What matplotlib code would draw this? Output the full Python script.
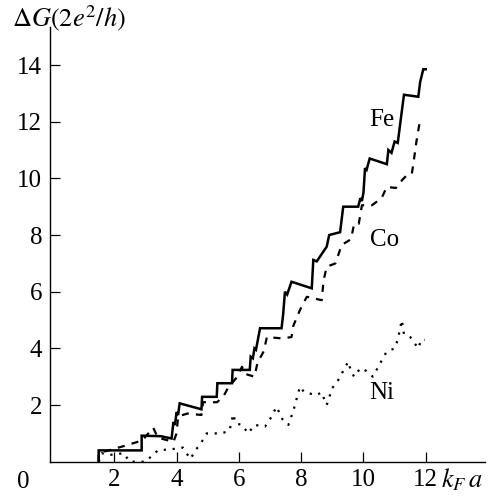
import matplotlib
matplotlib.use("Agg")
import matplotlib.pyplot as plt

plt.rcParams['font.family'] = ['Liberation Serif', 'DejaVu Serif']
plt.rcParams['mathtext.fontset'] = 'stix'

# ---- data ----
fe_x = [1.5, 1.5, 2.88, 2.88, 3.5, 3.84, 3.9, 3.95, 4.0, 4.05, 4.1, 4.8, 4.82, 5.29, 5.31, 5.78, 5.8,
        6.35, 6.38, 6.45, 6.5, 6.55, 6.68, 7.37, 7.42, 7.48, 7.55, 7.69, 8.34, 8.39, 8.5, 8.82, 8.9,
        9.25, 9.35, 9.83, 9.9, 9.95, 10.0, 10.05, 10.1, 10.2, 10.75, 10.8, 10.9, 11.0, 11.1, 11.17,
        11.3, 11.76, 11.82, 11.92, 12.0]
fe_y = [0.0, 0.4, 0.4, 0.92, 0.9, 0.82, 1.4, 1.3, 1.75, 1.65, 2.06, 1.85, 2.29, 2.29, 2.77, 2.77, 3.24,
        3.24, 3.71, 3.65, 4.0, 3.95, 4.71, 4.71, 5.18, 6.0, 5.9, 6.35, 6.12, 7.12, 7.07, 7.59, 8.0,
        8.1, 9.0, 9.0, 9.3, 9.2, 9.5, 10.36, 10.3, 10.7, 10.5, 11.0, 10.9, 11.3, 11.25, 11.85,
        12.95, 12.88, 13.4, 13.85, 13.85]

co_x = [1.5, 1.5, 2.3, 2.9, 3.25, 3.4, 3.9, 4.0, 4.05, 4.35, 4.8, 4.85, 5.3, 5.5, 5.65, 5.95, 6.1, 6.2,
        6.5, 6.6, 6.8, 6.9, 7.4, 7.69, 7.75, 7.96, 8.18, 8.66, 8.72, 8.82, 9.1, 9.3, 9.6, 9.7, 9.85,
        9.95, 10.27, 10.58, 10.75, 11.04, 11.25, 11.4, 11.55, 11.6, 11.7, 11.8, 11.95]
co_y = [0.0, 0.3, 0.55, 0.75, 1.2, 0.85, 0.7, 1.0, 1.6, 1.7, 1.65, 2.1, 2.1, 2.3, 2.6, 3.0, 3.35, 3.1,
        3.0, 3.5, 3.9, 4.4, 4.35, 4.4, 4.8, 5.35, 5.82, 5.7, 6.4, 6.88, 7.0, 7.65, 7.85, 8.4, 8.4,
        9.05, 9.05, 9.3, 9.7, 9.66, 9.95, 10.12, 10.15, 10.5, 11.3, 11.95, 11.9]

ni_x = [1.5, 1.6, 1.86, 2.3, 2.5, 3.0, 3.4, 3.9, 4.2, 4.35, 4.45, 4.6, 4.75, 4.97, 5.45, 5.7, 5.82,
        5.9, 6.1, 6.3, 6.5, 6.84, 7.0, 7.21, 7.4, 7.59, 7.75, 7.96, 8.1, 8.5, 8.65, 8.82, 9.0, 9.2,
        9.51, 9.6, 9.7, 9.9, 10.1, 10.3, 10.5, 10.74, 11.0, 11.1, 11.23, 11.3, 11.5, 11.76, 11.85, 11.97]
ni_y = [0.0, 0.3, 0.24, 0.3, 0.0, 0.0, 0.4, 0.45, 0.5, 0.25, 0.1, 0.4, 0.6, 1.0, 1.0, 1.1, 1.68,
        1.35, 1.3, 1.0, 1.3, 1.24, 1.5, 1.94, 1.5, 1.3, 1.8, 2.65, 2.45, 2.35, 2.45, 2.0, 2.6, 2.9,
        3.53, 3.2, 3.0, 3.3, 3.2, 3.0, 3.4, 3.88, 4.0, 4.3, 5.0, 4.5, 4.4, 4.0, 4.3, 4.3]

x_ticks = [2, 4, 6, 8, 10, 12]
y_ticks = [2, 4, 6, 8, 10, 12, 14]

fig = plt.figure(figsize=(4.92, 4.99), dpi=100)
ax = fig.add_axes([0.1024, 0.0747, 0.8833, 0.8717])

ax.plot(fe_x, fe_y, color='black', lw=1.8, ls='-', solid_joinstyle='miter')
ax.plot(co_x, co_y, color='black', lw=1.6, ls=(0, (3.2, 3.2)))
ax.plot(ni_x, ni_y, color='black', lw=1.6, ls=(0, (1, 3)))

ax.set_xlim(-0.05, 13.9)
ax.set_ylim(0, 15.35)
for s in ['top', 'right']:
    ax.spines[s].set_visible(False)
for s in ['left', 'bottom']:
    ax.spines[s].set_linewidth(1.0)

ax.set_xticks(x_ticks)
ax.set_xticklabels([str(v) for v in x_ticks])
ax.set_yticks(y_ticks)
ax.set_yticklabels([str(v) for v in y_ticks])
ax.tick_params(direction='in', length=7, width=0.9, labelsize=18)
ax.tick_params(axis='y', pad=6)
ax.tick_params(axis='x', pad=5)

ax.text(-0.91, -0.7, '0', fontsize=18, ha='center', va='center', clip_on=False)
ax.text(12.48, -0.62, r'$k_F\,a$', fontsize=19, ha='left', va='center', clip_on=False)
fig.text(12 / 492, 1 - 18 / 499, r'$\Delta G(2e^2/h)$', fontsize=19, ha='left', va='center')

ax.text(10.6, 12.06, 'Fe', fontsize=18, ha='center', va='center')
ax.text(10.69, 7.83, 'Co', fontsize=18, ha='center', va='center')
ax.text(10.58, 2.41, 'Ni', fontsize=18, ha='center', va='center')

fig.savefig('out.png', dpi=100)
